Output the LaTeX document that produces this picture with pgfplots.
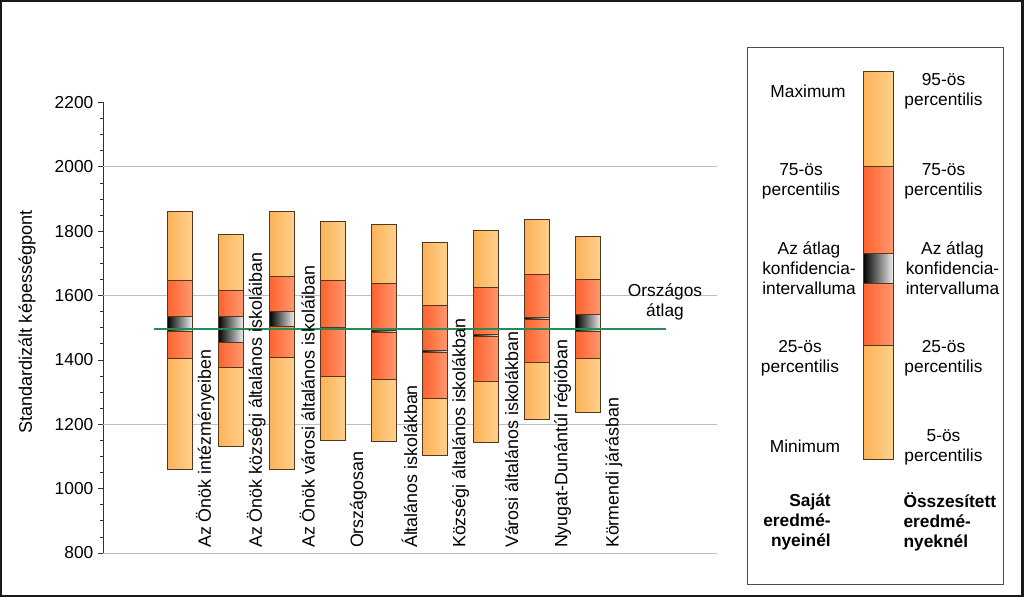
\documentclass[border=0pt]{standalone}
\usepackage{pgfplots}
\pgfplotsset{compat=1.18}
\usepackage{fontspec}
\setmainfont{Liberation Sans}
\definecolor{lightL}{RGB}{252,178,88}
\definecolor{lightR}{RGB}{255,208,140}
\definecolor{redL}{RGB}{255,98,45}
\definecolor{redR}{RGB}{255,152,112}
\definecolor{ciR}{RGB}{238,238,238}
\definecolor{segline}{RGB}{85,55,30}
\definecolor{avgline}{RGB}{40,138,85}
\newcommand\fs{\fontsize{13}{15}\selectfont}
\newcommand\fsl{\fontsize{13.4}{15}\selectfont}
\def\bw{0.245}
\pgfplotsset{seg/.style={draw=segline, line width=0.6pt, mark=none}}
% #1 centre, #2 min, #3 q25, #4 CI low, #5 CI high, #6 q75, #7 max
\newcommand\boxbar[7]{%
  \pgfmathsetmacro\xl{#1-\bw}\pgfmathsetmacro\xr{#1+\bw}%
  \addplot[seg, left color=lightL, right color=lightR] coordinates {(\xl,#2) (\xr,#2) (\xr,#3) (\xl,#3)} -- cycle;
  \addplot[seg, left color=redL, right color=redR] coordinates {(\xl,#3) (\xr,#3) (\xr,#4) (\xl,#4)} -- cycle;
  \addplot[seg, left color=black, right color=ciR] coordinates {(\xl,#4) (\xr,#4) (\xr,#5) (\xl,#5)} -- cycle;
  \addplot[seg, left color=redL, right color=redR] coordinates {(\xl,#5) (\xr,#5) (\xr,#6) (\xl,#6)} -- cycle;
  \addplot[seg, left color=lightL, right color=lightR] coordinates {(\xl,#6) (\xr,#6) (\xr,#7) (\xl,#7)} -- cycle;
}
\begin{document}
\begin{tikzpicture}
\begin{scope}[x=0.75pt,y=-0.75pt]
\useasboundingbox (0,0) rectangle (1024,597);
\end{scope}
\begin{axis}[
  at={(77.25pt,-414.75pt)}, anchor=south west,
  scale only axis, width=460.5pt, height=337.9pt,
  xmin=-0.5, xmax=11.52, ymin=800, ymax=2200,
  axis x line=none, axis y line*=left,
  ytick={800,1000,...,2200}, minor y tick num=3,
  tick align=outside, major tick length=3.75pt, minor tick length=2.2pt,
  extra y ticks={800,1200,1600,2000}, extra y tick labels={},
  extra y tick style={grid=major, major tick length=0pt},
  major grid style={draw=black!25, line width=0.75pt},
  y axis line style={draw=black!80, line width=0.75pt},
  every tick/.style={draw=black!80, line width=0.6pt},
  yticklabel style={font=\fs},
  /pgf/number format/.cd, 1000 sep={}, assume math mode=true,
]
\boxbar{1}{1061}{1405}{1488}{1536}{1647}{1861}
\boxbar{2}{1130}{1378}{1455}{1534}{1615}{1790}
\boxbar{3}{1061}{1408}{1503}{1552}{1660}{1861}
\boxbar{4}{1151}{1348}{1494}{1500}{1647}{1830}
\boxbar{5}{1147}{1340}{1486}{1491}{1638}{1821}
\boxbar{6}{1104}{1281}{1422}{1429}{1568}{1766}
\boxbar{7}{1145}{1332}{1473}{1480}{1625}{1803}
\boxbar{8}{1215}{1392}{1526}{1533}{1666}{1836}
\boxbar{9}{1236}{1405}{1490}{1540}{1650}{1785}
\addplot[draw=avgline, line width=1.9pt, mark=none] coordinates {(0.5,1496) (10.53,1496)};
\begin{scope}[every node/.style={rotate=90, anchor=west, inner sep=0pt, font=\fsl}]
\node at (axis cs:1.5,815) {Az Önök intézményeiben};
\node at (axis cs:2.5,815) {Az Önök községi általános iskoláiban};
\node at (axis cs:3.5,815) {Az Önök városi általános iskoláiban};
\node at (axis cs:4.5,815) {Országosan};
\node at (axis cs:5.5,815) {Általános iskolákban};
\node at (axis cs:6.5,815) {Községi általános iskolákban};
\node at (axis cs:7.5,815) {Városi általános iskolákban};
\node at (axis cs:8.5,815) {Nyugat-Dunántúl régióban};
\node at (axis cs:9.5,815) {Körmendi járásban};
\end{scope}
\end{axis}
\begin{axis}[
  at={(647.475pt,-344.475pt)}, anchor=south west,
  scale only axis, width=22.5pt, height=290.7pt,
  xmin=0, xmax=1, ymin=0, ymax=100, hide axis, clip=false,
]
\def\bw{0.5}
\boxbar{0.5}{0}{29.31}{45.41}{53.15}{75.49}{100}
\end{axis}
\begin{scope}[x=0.75pt,y=-0.75pt, every node/.style={font=\fs, align=center}]
\draw[line width=1.8pt, draw=black!90] (1.2,1.2) rectangle (1022.6,595.8);
\draw[line width=0.75pt, draw=black!70] (747.3,47.3) rectangle (1003.3,584);
\node[rotate=90, font=\fontsize{13.6}{15}\selectfont] at (27,322) {Standardizált képességpont};
\node at (665,301.7) {Országos\\átlag};
\node at (808,91.7) {Maximum};
\node at (943.5,91.7) {95-ös\\percentilis};
\node at (801,181.7) {75-ös\\percentilis};
\node at (943.5,181.7) {75-ös\\percentilis};
\node at (809,268) {Az átlag\\konfidencia-\\intervalluma};
\node at (952.5,268) {Az átlag\\konfidencia-\\intervalluma};
\node at (800,358) {25-ös\\percentilis};
\node at (943.5,358) {25-ös\\percentilis};
\node at (805,446.7) {Minimum};
\node at (943.5,447.7) {5-ös\\percentilis};
\node[align=right, anchor=east, inner sep=0pt, font=\fs\bfseries] at (831,521.7) {Saját\\eredmé-\\nyeinél};
\node[align=left, anchor=west, inner sep=0pt, font=\fs\bfseries] at (903.3,521.7) {Összesített\\eredmé-\\nyeknél};
\end{scope}
\end{tikzpicture}
\end{document}
